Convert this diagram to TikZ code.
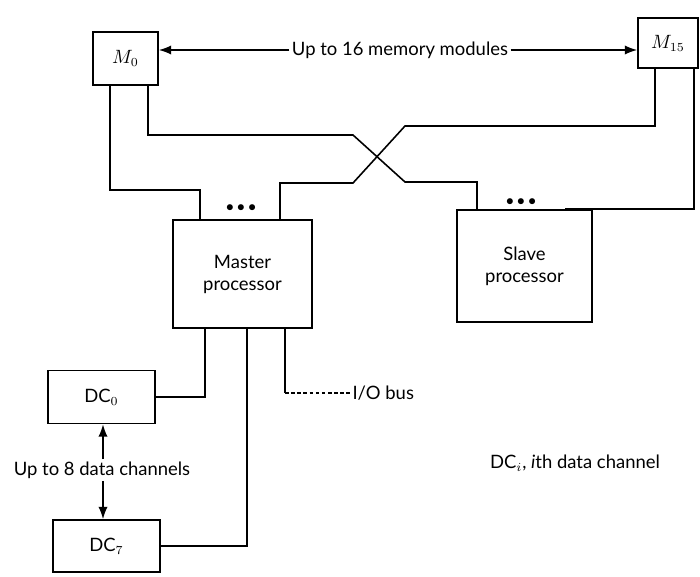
\documentclass[tikz,border=0pt]{standalone}
\usepackage{fontspec}
\setmainfont{Lato}
\usetikzlibrary{arrows.meta}

\tikzset{
  unit/.style={draw,line width=0.9pt,inner sep=0pt,align=center},
  lbl/.style={inner sep=1pt},
  dots/.style={scale=0.8},
}

\begin{document}
\begin{tikzpicture}[x=0.02cm,y=-0.02cm,line width=0.9pt,font=\fontsize{10.5}{12.5}\selectfont]
\useasboundingbox (0,0) rectangle (700,577);

% memory modules
\node[unit,minimum width=1.3cm,minimum height=1.06cm] (m0) at (125.5,58.5) {$M_0$};
\node[unit,minimum width=1.2cm,minimum height=1.0cm] (m15) at (668,43) {$M_{15}$};
\node[lbl] (mods) at (400,50) {Up to 16 memory modules};
\draw[-Latex] (mods) -- (mods -| m0.east);
\draw[-Latex] (mods) -- (mods -| m15.west);

% processors
\node[unit,minimum width=2.78cm,minimum height=2.16cm] (master) at (242.5,274) {Master\\processor};
\node[unit,minimum width=2.7cm,minimum height=2.24cm] (slave) at (524.5,266) {Slave\\processor};
\node[dots] (mdots) at (241,208) {$\bullet\bullet\bullet$};
\node[dots] (sdots) at (521,202) {$\bullet\bullet\bullet$};

% memory buses
\draw (m0.south -| 110,0) |- (200,190) -- (master.north -| 200,0);
\draw (m0.south -| 148,0) |- (353,135) -- (405,182) -| (slave.north -| 477,0);
\draw (m15.south -| 655,0) |- (405,126) -- (353,183) -| (master.north -| 280,0);
\draw (m15.south -| 694,0) |- (slave.north -| 565,175) -- (slave.north -| 565,0);

% data channels
\node[unit,minimum width=2.14cm,minimum height=1.06cm] (dc0) at (101.5,397) {DC$_0$};
\node[unit,minimum width=2.14cm,minimum height=1.04cm] (dc7) at (106.5,546) {DC$_7$};
\node[lbl] (chans) at (102,470) {Up to 8 data channels};
\draw[-Latex] (chans.north -| 103,0) -- (dc0.south -| 103,0);
\draw[-Latex] (chans.south -| 103,0) -- (dc7.north -| 103,0);
\draw (master.south -| 205,0) |- (dc0.east);
\draw (master.south -| 247,0) |- (dc7.east);

% i/o bus
\node[lbl,anchor=west] (io) at (350,393) {I/O bus};
\draw (master.south -| 285,0) -- (io.west -| 285,0);
\draw[dash pattern=on 2pt off 1.5pt] (io.west -| 285,0) -- (io.west);

\node[lbl] (legend) at (575,463) {DC$_i$, \textit{i}th data channel};
\end{tikzpicture}
\end{document}
